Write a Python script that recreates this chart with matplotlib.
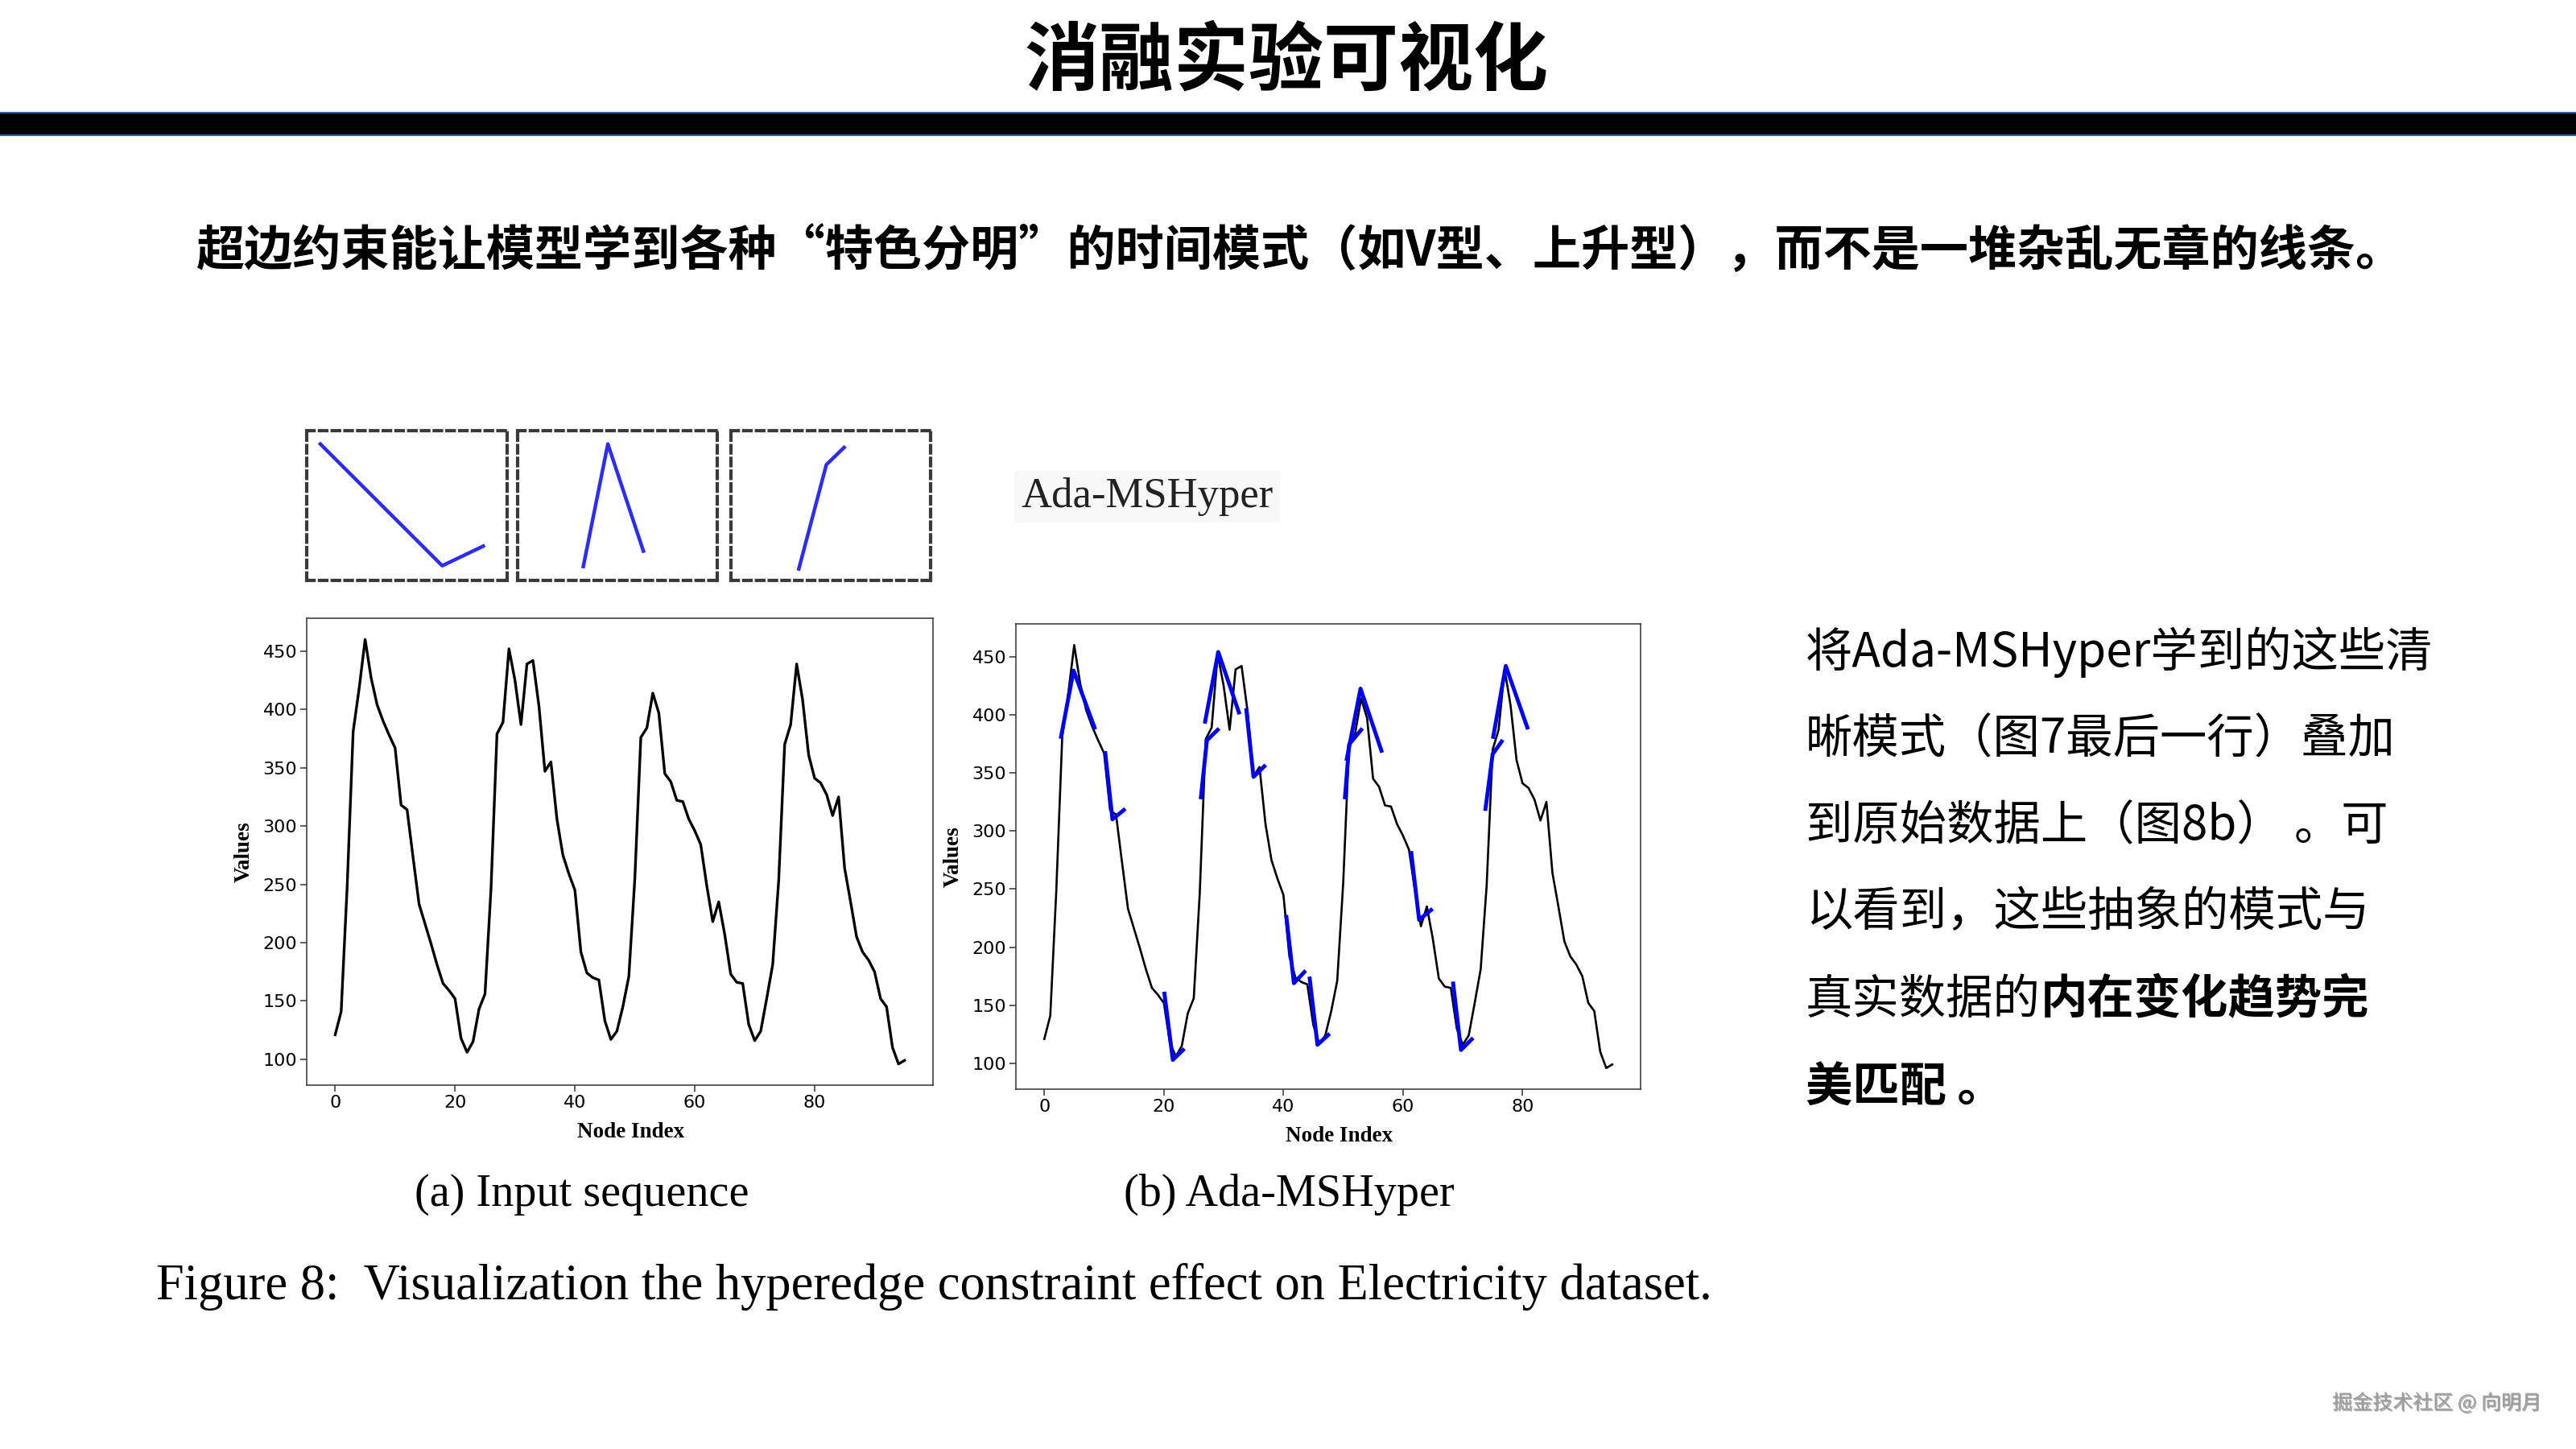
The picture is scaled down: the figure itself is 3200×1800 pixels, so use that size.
import matplotlib
matplotlib.use("Agg")
import matplotlib.pyplot as plt
import matplotlib.patheffects as pe
from matplotlib.patches import Rectangle

plt.rcParams['font.family'] = ['Noto Sans CJK SC', 'DejaVu Sans']

#----data----
# electricity series (one value per node)
node_values = [121, 141, 248, 381, 418, 460, 427, 404, 390, 378,
               367, 318, 314, 273, 233, 216, 199, 181, 165, 159,
               152, 118, 106, 115, 143, 156, 246, 379, 389, 452,
               425, 387, 439, 442, 403, 347, 355, 306, 275, 259,
               245, 192, 174, 170, 168, 133, 117, 124, 145, 171,
               255, 376, 384, 414, 397, 345, 338, 322, 321, 306,
               296, 284, 249, 218, 235, 207, 173, 166, 165, 130,
               116, 124, 152, 181, 253, 370, 387, 439, 408, 361,
               341, 337, 327, 309, 325, 264, 235, 205, 192, 185,
               175, 152, 145, 110, 96, 99]

# learned hyperedge patterns laid over the series (b)
seg_x = [[2.8, 4.9, 8.4], [10.2, 11.4, 13.3], [20.1, 21.5, 23.2],
         [26.2, 27.2, 29.0], [26.9, 29.1, 32.55], [33.8, 35.0, 36.8],
         [40.5, 41.75, 43.5], [44.4, 45.7, 47.5], [50.3, 51.0, 53.0],
         [50.6, 52.9, 56.4], [61.4, 62.7, 64.7], [68.4, 69.7, 71.5],
         [73.8, 75.0, 76.5], [75.1, 77.2, 80.8]]
seg_y = [[381, 438, 389], [367, 310, 318], [160, 103, 111.5],
         [329, 378, 387], [394, 454, 402], [404, 346.5, 355.6],
         [226, 169, 178.6], [173, 116, 124.5], [329, 374.5, 387],
         [362, 422.5, 369], [281, 223.5, 232], [168.7, 111.5, 120.7],
         [319, 366, 377], [381, 442, 389]]

# the three pattern prototypes in the dashed boxes (normalised)
pattern_x = [[0.068, 0.676, 0.881], [0.329, 0.452, 0.630], [0.340, 0.478, 0.567]]
pattern_y = [[0.911, 0.098, 0.229], [0.093, 0.911, 0.196], [0.077, 0.773, 0.888]]

x_ticks = [0, 20, 40, 60, 80]
y_ticks = [100, 150, 200, 250, 300, 350, 400, 450]

title = "消融实验可视化"
subtitle = "超边约束能让模型学到各种“特色分明”的时间模式（如V型、上升型），而不是一堆杂乱无章的线条。"
note_lines = ["将Ada-MSHyper学到的这些清",
              "晰模式（图7最后一行）叠加",
              "到原始数据上（图8b） 。可",
              "以看到，这些抽象的模式与"]
note_line5 = ("真实数据的", "内在变化趋势完")
note_line6 = "美匹配 。"
caption = "Figure 8:  Visualization the hyperedge constraint effect on Electricity dataset."

#----layout----
W, H = 3200, 1800
fig = plt.figure(figsize=(32, 18), dpi=100)


def box(x0, y0, x1, y1):
    return [x0 / W, 1 - y1 / H, (x1 - x0) / W, (y1 - y0) / H]


bg = fig.add_axes([0, 0, 1, 1])
bg.set_xlim(0, W)
bg.set_ylim(H, 0)
bg.axis("off")

bg.text(1598, 77, title, ha="center", va="center", fontsize=67, fontweight="bold")
bg.add_patch(Rectangle((-2, 140), W + 4, 28, facecolor="black", edgecolor="#3A5A96", lw=1.5))
bg.text(243, 312, subtitle, ha="left", va="center", fontsize=43.3, fontweight="bold")

# right hand note
note_y = [810, 919, 1027, 1134, 1242, 1352]
for y, line in zip(note_y, note_lines):
    bg.text(2243, y, line, ha="left", va="center", fontsize=42)
t5 = bg.text(2243, note_y[4], note_line5[0], ha="left", va="center", fontsize=42)
bg.annotate(note_line5[1], xy=(1, 0.5), xycoords=t5, ha="left", va="center",
            fontsize=42, fontweight="bold")
bg.text(2243, note_y[5], note_line6, ha="left", va="center", fontsize=42, fontweight="bold")

bg.text(3157, 1743, "掘金技术社区 @ 向明月", ha="right", va="center", fontsize=18,
        color="#9c9c9c",
        path_effects=[pe.withSimplePatchShadow(offset=(1, -1), shadow_rgbFace="#555555", alpha=0.5)])

# pattern prototypes
box_x = [(381, 630), (643, 891), (908, 1156)]
for (x0, x1), px, py in zip(box_x, pattern_x, pattern_y):
    ax = fig.add_axes(box(x0, 535, x1, 721))
    ax.plot(px, py, color="#2b2bff", lw=3.2)
    ax.set_xlim(0, 1)
    ax.set_ylim(0, 1)
    ax.set_xticks([])
    ax.set_yticks([])
    for s in ax.spines.values():
        s.set_linestyle((0, (2.2, 1.6)))
        s.set_linewidth(3)
        s.set_edgecolor("#3a3a3a")

bg.text(1425, 617, "Ada-MSHyper", family="Liberation Serif", fontsize=38,
        ha="center", va="center", color="#222222",
        bbox=dict(facecolor="#f8f8f8", edgecolor="none", pad=6))

# series plots
ax1 = fig.add_axes(box(381, 768, 1159, 1348))
ax2 = fig.add_axes(box(1262, 775, 2038, 1353))
ax1.plot(range(len(node_values)), node_values, color="black", lw=2.4)
ax2.plot(range(len(node_values)), node_values, color="black", lw=1.9)
for sx, sy in zip(seg_x, seg_y):
    ax2.plot(sx, sy, color="blue", lw=3.5)

for ax in (ax1, ax2):
    ax.set_xlim(-4.75, 99.75)
    ax.set_ylim(77.8, 478.2)
    ax.set_xticks(x_ticks)
    ax.set_yticks(y_ticks)
    ax.tick_params(labelsize=16, length=5.5, width=1.1, color="#333333", pad=3)
    for lbl in ax.get_xticklabels() + ax.get_yticklabels():
        lbl.set_fontfamily("DejaVu Sans")
    for s in ax.spines.values():
        s.set_linewidth(1.1)
        s.set_edgecolor("#333333")
    ax.set_xlabel("Node Index", family="Liberation Serif", fontweight="bold", fontsize=19.5, labelpad=10)
    ax.xaxis.label.set_x(0.5175)
    ax.set_ylabel("Values", family="Liberation Serif", fontweight="bold", fontsize=19.5, labelpad=8)

bg.text(723, 1484, "(a) Input sequence", family="Liberation Serif", fontsize=40.5, ha="center", va="center")
bg.text(1601, 1484, "(b) Ada-MSHyper", family="Liberation Serif", fontsize=40.5, ha="center", va="center")
bg.text(194, 1598, caption, family="Liberation Serif", fontsize=45, ha="left", va="center")

fig.savefig("out.png", dpi=100)
